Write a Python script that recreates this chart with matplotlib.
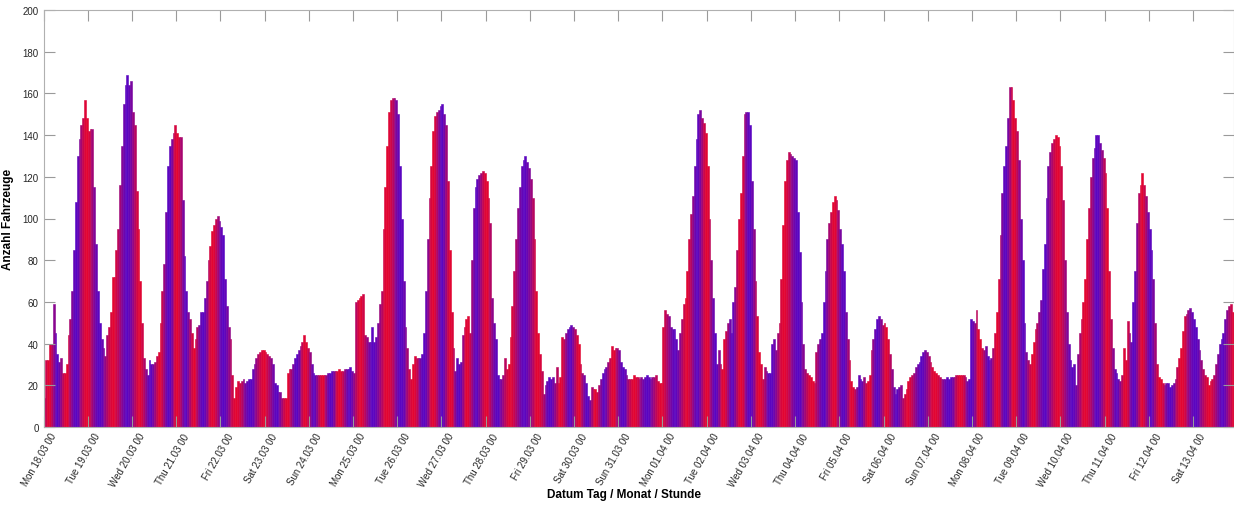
import matplotlib.pyplot as plt
import matplotlib.transforms as mtransforms
import numpy as np

# Stündliche Fahrzeugzählung, ein Tag pro Liste (Stunde 00 .. 23)
mon_18_03 = [14, 32, 32, 40, 40, 59, 45, 35, 31, 33, 26, 26, 30, 44, 52, 65, 85, 108, 130, 138, 145, 148, 157, 148]
tue_19_03 = [142, 143, 143, 115, 88, 65, 50, 42, 38, 34, 44, 48, 55, 72, 72, 85, 95, 116, 135, 155, 164, 169, 164, 166]
wed_20_03 = [151, 145, 113, 95, 70, 50, 33, 28, 25, 32, 30, 30, 31, 34, 36, 50, 65, 78, 103, 125, 135, 138, 141, 145]
thu_21_03 = [141, 139, 139, 109, 82, 65, 55, 52, 45, 38, 42, 48, 49, 55, 55, 62, 70, 80, 87, 94, 97, 100, 101, 99]
fri_22_03 = [96, 92, 71, 58, 48, 42, 25, 14, 19, 22, 21, 22, 23, 21, 22, 23, 23, 28, 30, 33, 35, 36, 37, 37]
sat_23_03 = [36, 35, 34, 33, 30, 21, 20, 17, 17, 14, 14, 14, 26, 28, 28, 30, 33, 35, 37, 39, 41, 44, 41, 38]
sun_24_03 = [36, 30, 26, 25, 25, 25, 25, 25, 25, 25, 26, 26, 27, 27, 27, 27, 28, 27, 27, 28, 28, 28, 29, 27]
mon_25_03 = [26, 60, 61, 62, 63, 64, 44, 43, 41, 41, 48, 41, 43, 50, 59, 65, 95, 115, 135, 151, 157, 158, 158, 157]
tue_26_03 = [150, 125, 100, 70, 48, 38, 28, 23, 30, 34, 33, 33, 33, 35, 45, 65, 90, 110, 125, 142, 149, 151, 152, 154]
wed_27_03 = [155, 150, 145, 118, 85, 55, 38, 27, 33, 30, 31, 44, 48, 52, 53, 45, 80, 105, 115, 119, 121, 122, 123, 122]
thu_28_03 = [118, 110, 98, 62, 50, 42, 25, 23, 23, 25, 33, 28, 30, 43, 58, 75, 90, 105, 115, 125, 128, 130, 127, 124]
fri_29_03 = [119, 110, 90, 65, 45, 35, 27, 16, 20, 22, 24, 23, 24, 21, 29, 21, 24, 43, 42, 45, 47, 48, 49, 48]
sat_30_03 = [47, 44, 40, 30, 26, 25, 21, 15, 13, 19, 18, 18, 17, 20, 23, 26, 28, 29, 31, 33, 39, 37, 38, 38]
sun_31_03 = [37, 31, 29, 28, 25, 23, 23, 23, 25, 24, 24, 23, 24, 23, 24, 25, 24, 23, 24, 24, 25, 22, 21, 21]
mon_01_04 = [48, 56, 54, 53, 48, 47, 47, 42, 37, 45, 52, 59, 62, 75, 90, 102, 111, 125, 138, 150, 152, 148, 146, 141]
tue_02_04 = [125, 100, 80, 62, 45, 30, 37, 30, 28, 42, 46, 50, 52, 45, 60, 67, 85, 100, 112, 130, 150, 151, 151, 145]
wed_03_04 = [118, 95, 70, 53, 36, 30, 23, 29, 27, 26, 26, 40, 42, 37, 45, 50, 71, 97, 118, 128, 132, 131, 130, 129]
thu_04_04 = [128, 103, 84, 60, 40, 28, 26, 25, 24, 22, 21, 36, 40, 42, 45, 60, 75, 90, 98, 103, 108, 111, 109, 104]
fri_05_04 = [95, 88, 75, 55, 42, 32, 22, 19, 18, 19, 25, 23, 22, 24, 21, 22, 25, 37, 42, 47, 52, 53, 52, 49]
sat_06_04 = [50, 48, 42, 35, 28, 19, 16, 18, 19, 20, 14, 16, 18, 22, 24, 25, 26, 29, 30, 31, 34, 36, 37, 36]
sun_07_04 = [34, 31, 29, 27, 26, 25, 24, 23, 23, 23, 24, 23, 24, 24, 24, 25, 25, 25, 25, 25, 24, 22, 23, 52]
mon_08_04 = [51, 50, 56, 47, 42, 38, 37, 39, 34, 32, 33, 38, 45, 55, 71, 92, 112, 125, 135, 148, 163, 163, 157, 148]
tue_09_04 = [142, 128, 100, 80, 50, 36, 32, 30, 35, 41, 47, 50, 55, 61, 76, 88, 110, 125, 132, 136, 138, 140, 139, 135]
wed_10_04 = [125, 109, 80, 55, 40, 32, 29, 30, 20, 35, 45, 52, 60, 71, 90, 105, 120, 129, 134, 140, 140, 136, 133, 129]
thu_11_04 = [122, 105, 75, 52, 38, 28, 26, 23, 22, 25, 38, 32, 51, 45, 41, 60, 75, 98, 112, 116, 122, 116, 111, 103]
fri_12_04 = [95, 85, 71, 50, 30, 24, 23, 21, 20, 21, 21, 19, 20, 21, 23, 29, 33, 38, 46, 53, 54, 56, 57, 55]
sat_13_04 = [52, 48, 42, 37, 32, 28, 25, 24, 20, 22, 23, 25, 30, 35, 40, 42, 45, 52, 56, 58, 59, 55]

tick_labels = [
    "Mon 18.03 00", "Tue 19.03 00", "Wed 20.03 00", "Thu 21.03 00", "Fri 22.03 00",
    "Sat 23.03 00", "Sun 24.03 00", "Mon 25.03 00", "Tue 26.03 00", "Wed 27.03 00",
    "Thu 28.03 00", "Fri 29.03 00", "Sat 30.03 00", "Sun 31.03 00", "Mon 01.04 00",
    "Tue 02.04 00", "Wed 03.04 00", "Thu 04.04 00", "Fri 05.04 00", "Sat 06.04 00",
    "Sun 07.04 00", "Mon 08.04 00", "Tue 09.04 00", "Wed 10.04 00", "Thu 11.04 00",
    "Fri 12.04 00", "Sat 13.04 00",
]

days = [
    mon_18_03, tue_19_03, wed_20_03, thu_21_03, fri_22_03, sat_23_03, sun_24_03,
    mon_25_03, tue_26_03, wed_27_03, thu_28_03, fri_29_03, sat_30_03, sun_31_03,
    mon_01_04, tue_02_04, wed_03_04, thu_04_04, fri_05_04, sat_06_04, sun_07_04,
    mon_08_04, tue_09_04, wed_10_04, thu_11_04, fri_12_04, sat_13_04,
]
counts = np.concatenate([np.array(d, dtype=float) for d in days])
hours = np.arange(len(counts))

# Balkenfarben: wechselnd zwischen Rot und Blauviolett
red = np.array([0.89, 0.02, 0.19])
blue = np.array([0.35, 0.02, 0.76])
mix = 0.5 + 0.5 * np.sin(0.55 * hours + 1.7 * np.sin(0.085 * hours))
colors = [tuple(m * red + (1 - m) * blue) for m in mix]

plt.rcParams["font.family"] = ["Liberation Sans", "DejaVu Sans"]

fig = plt.figure(figsize=(12.34, 5.06), dpi=100)
ax = fig.add_axes([43.6 / 1234, 1 - 428 / 506, (1233.5 - 43.6) / 1234, (428 - 11) / 506])

ax.bar(hours, counts, width=1.0, align="edge", color=colors, edgecolor=colors, linewidth=0.4)

ax.set_xlim(0, len(counts))
ax.set_ylim(0, 200)
ax.set_yticks(np.arange(0, 201, 20))
ax.set_xticks(np.arange(len(tick_labels)) * 24)
ax.set_xticklabels(tick_labels, rotation=60, ha="right", va="top", rotation_mode="anchor",
                   fontsize=7, color="#262626")
ax.tick_params(axis="y", labelsize=7, labelcolor="#262626")
ax.tick_params(direction="in", length=8, width=0.8, color="#9a9a9a", top=True, right=True)
ax.tick_params(axis="x", pad=3)

# Beschriftungen leicht nach rechts verschieben wie im Original
shift = mtransforms.ScaledTranslation(6 / 100, 0, fig.dpi_scale_trans)
for label in ax.get_xticklabels():
    label.set_transform(label.get_transform() + shift)

for side in ["top", "bottom", "left", "right"]:
    ax.spines[side].set_color("#b0b0b0")
    ax.spines[side].set_linewidth(0.8)

ax.set_ylabel("Anzahl Fahrzeuge", fontsize=8.5, fontweight="bold", labelpad=6)
fig.text(624 / 1234, 1 - 495 / 506, "Datum Tag / Monat / Stunde", fontsize=8.5,
         fontweight="bold", ha="center", va="center")

fig.savefig("out.png", dpi=100)
plt.close(fig)
